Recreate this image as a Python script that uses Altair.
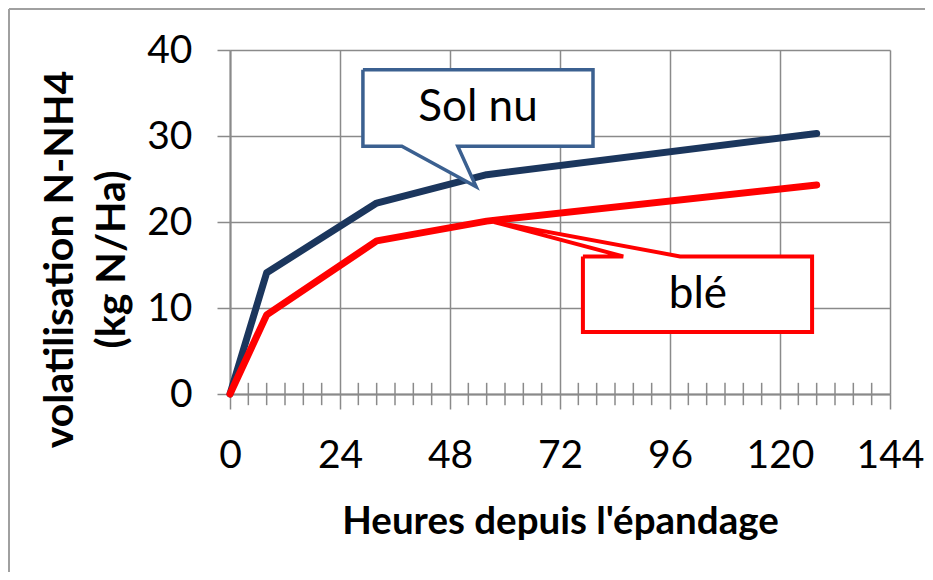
import altair as alt
import pandas as pd

# --- data ---
hours = [0, 8, 32, 56, 128]
sol_nu = [0, 14.1, 22.2, 25.5, 30.3]
ble = [0, 9.2, 17.8, 20.1, 24.3]

x_ticks = [0, 24, 48, 72, 96, 120, 144]
y_ticks = [0, 10, 20, 30, 40]
minor_ticks = [h for h in range(4, 144, 4) if h % 24 != 0]

# callout outlines (data units: hours, kg N/Ha)
solnu_box_x = [29.0, 79.2, 79.2, 49.7, 53.7, 37.5, 29.0, 29.0]
solnu_box_y = [37.7, 37.7, 28.8, 28.8, 24.1, 28.8, 28.8, 37.7]
ble_box_x = [77.0, 85.8, 57.6, 98.2, 127.0, 127.0, 77.0, 77.0]
ble_box_y = [16.0, 16.0, 20.0, 16.0, 16.0, 7.2, 7.2, 16.0]
labels_text = ["Sol nu", "blé"]
labels_x = [54.1, 102.1]
labels_y = [33.3, 11.5]

FONT = "Lato"
GRID = "#8a8a8a"
NAVY = "#1B365D"
RED = "#FF0000"

lines_df = pd.DataFrame({
    "h": hours * 2,
    "v": sol_nu + ble,
    "serie": ["Sol nu"] * len(hours) + ["blé"] * len(hours),
})

xscale = alt.Scale(domain=[0, 144], nice=False, zero=False)
yscale = alt.Scale(domain=[0, 40], nice=False)

x_axis = alt.Axis(values=x_ticks, grid=True, gridColor=GRID, gridWidth=1.5,
                  domainColor=GRID, domainWidth=2, tickColor=GRID, tickWidth=1.5,
                  tickSize=15, labelFont=FONT, labelFontSize=39, labelColor="black",
                  labelPadding=27, labelFlush=False, labelOverlap=False,
                  title="Heures depuis l'épandage",
                  titleFont=FONT, titleFontSize=38.5, titleFontWeight="bold",
                  titleColor="black", titlePadding=28)
y_axis = alt.Axis(values=y_ticks, grid=True, gridColor=GRID, gridWidth=1.5,
                  domainColor=GRID, domainWidth=2, tickColor=GRID, tickWidth=1.5,
                  tickSize=13, labelFont=FONT, labelFontSize=39, labelColor="black",
                  labelPadding=25, labelFlush=False, labelOverlap=False,
                  title=["volatilisation N-NH4", "(kg N/Ha)"],
                  titleFont=FONT, titleFontSize=41, titleFontWeight="bold",
                  titleColor="black", titleAngle=270, titleAlign="center",
                  titleBaseline="top", titleX=-190, titleY=209, titleLineHeight=52)

minor_df = pd.DataFrame({"h": minor_ticks, "lo": [-1.3] * len(minor_ticks),
                         "hi": [1.3] * len(minor_ticks)})
minor = alt.Chart(minor_df).mark_rule(color=GRID, strokeWidth=1.5).encode(
    x=alt.X("h:Q", scale=xscale, axis=x_axis),
    y=alt.Y("lo:Q", scale=yscale, axis=y_axis),
    y2="hi:Q",
)

lines = alt.Chart(lines_df).mark_line(strokeWidth=7, strokeCap="round",
                                      strokeJoin="round").encode(
    x=alt.X("h:Q", scale=xscale),
    y=alt.Y("v:Q", scale=yscale),
    color=alt.Color("serie:N", scale=alt.Scale(domain=["Sol nu", "blé"],
                                               range=[NAVY, RED]), legend=None),
)

solnu_df = pd.DataFrame({"x": solnu_box_x, "y": solnu_box_y,
                         "o": list(range(len(solnu_box_x)))})
ble_df = pd.DataFrame({"x": ble_box_x, "y": ble_box_y,
                       "o": list(range(len(ble_box_x)))})

solnu_call = alt.Chart(solnu_df).mark_line(fill="white", stroke="#3B6090",
                                           strokeWidth=3.5, strokeJoin="miter").encode(
    x=alt.X("x:Q", scale=xscale), y=alt.Y("y:Q", scale=yscale), order="o:Q")
ble_call = alt.Chart(ble_df).mark_line(fill="white", stroke=RED,
                                       strokeWidth=4, strokeJoin="miter").encode(
    x=alt.X("x:Q", scale=xscale), y=alt.Y("y:Q", scale=yscale), order="o:Q")

txt_df = pd.DataFrame({"t": labels_text, "x": labels_x, "y": labels_y})
texts = alt.Chart(txt_df).mark_text(font=FONT, fontSize=44, color="black",
                                    baseline="middle", align="center").encode(
    x=alt.X("x:Q", scale=xscale), y=alt.Y("y:Q", scale=yscale), text="t:N")

frame_top = alt.Chart(minor_df).mark_rule(color="#a0a0a0", strokeWidth=2).encode(
    x=alt.value(-221), x2=alt.value(700), y=alt.value(-41))
frame_left = alt.Chart(minor_df).mark_rule(color="#a0a0a0", strokeWidth=2).encode(
    x=alt.value(-221), y=alt.value(-41), y2=alt.value(530))

chart = alt.layer(frame_top, frame_left, minor, lines, solnu_call, ble_call, texts).properties(
    width=660, height=344,
    autosize=alt.AutoSizeParams(type="none"),
    padding={"left": 222, "top": 42, "right": 35, "bottom": 178},
).configure_view(stroke=None)

chart.save("out.html", embed_options={"renderer": "svg", "actions": False})
